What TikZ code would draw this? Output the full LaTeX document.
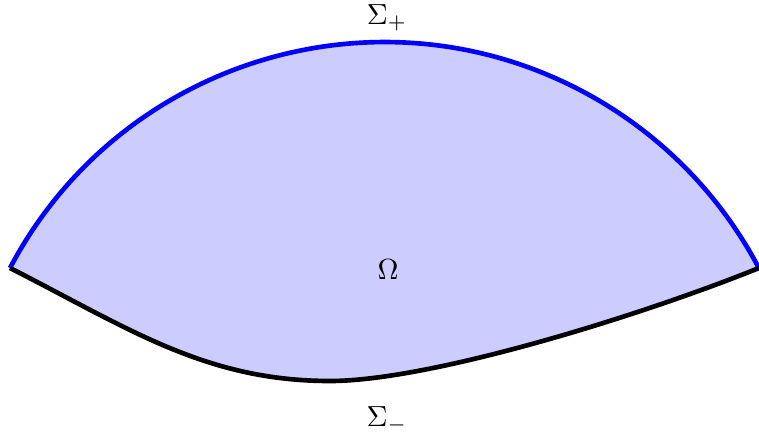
\documentclass[tikz,border=0pt]{standalone}
\usetikzlibrary{positioning}
\tikzset{
    boundary/.style={line width=1.6pt},
    upperside/.style={boundary, draw=blue},
    lowerside/.style={boundary, draw=black},
    region/.style={fill=blue!20}
}
\begin{document}
\begin{tikzpicture}[x=0.0121cm, y=0.0121cm]
    \useasboundingbox (0,0) rectangle (759,436);
    \coordinate (left) at (10,168);
    \coordinate (right) at (759,168);
    \coordinate (low) at (330,55);
    % domain
    \fill [region] (left) arc[start angle=152.2, end angle=27.8, radius=423.3]
        .. controls (640,120) and (430,55) .. (low)
        .. controls (205,55) and (128,108) .. (left) -- cycle;
    % boundary parts
    \draw [upperside] (left) arc[start angle=152.2, end angle=27.8, radius=423.3];
    \draw [lowerside] (left) .. controls (128,108) and (205,55) .. (low)
        .. controls (430,55) and (640,120) .. (right);
    \node (sigmaplus) at (387,418) {$\Sigma_+$};
    \node (omega) at (388,166) {$\Omega$};
    \node (sigmaminus) at (387,16) {$\Sigma_-$};
\end{tikzpicture}
\end{document}
